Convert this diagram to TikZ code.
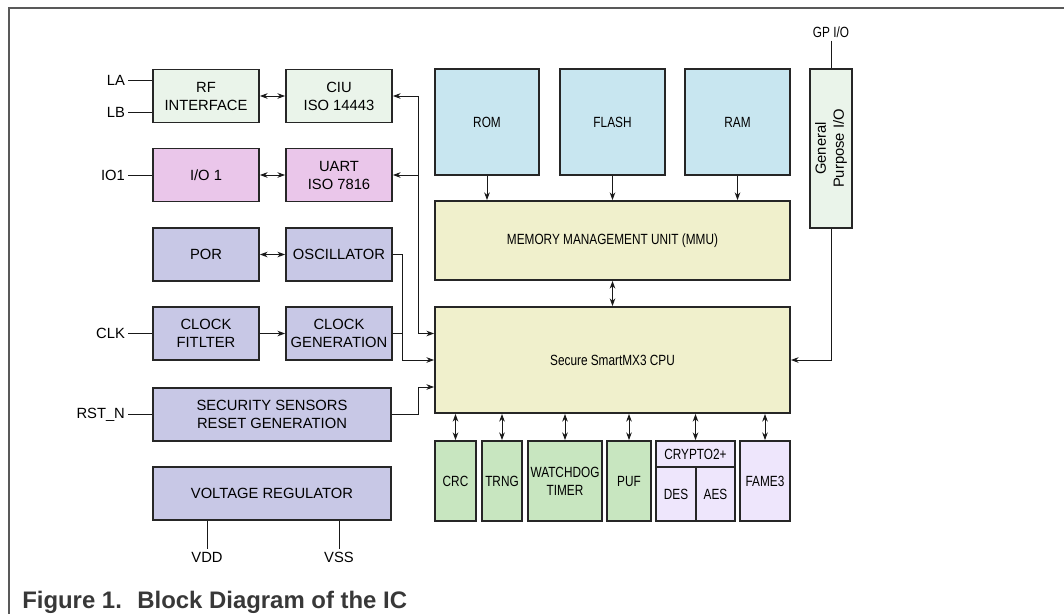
\documentclass[tikz,border=0pt]{standalone}
\usepackage{fontspec}
\setmainfont{Liberation Sans}
\newfontfamily\narrowsf[FakeStretch=0.8]{Liberation Sans}
\usetikzlibrary{arrows.meta, calc}

\definecolor{rfgreen}{HTML}{EAF4EA}
\definecolor{iopink}{HTML}{EAC6EA}
\definecolor{syslav}{HTML}{C8C8E6}
\definecolor{memblue}{HTML}{C8E6F0}
\definecolor{cpuyel}{HTML}{F0F0CC}
\definecolor{perigreen}{HTML}{C8E6C0}
\definecolor{cryptlil}{HTML}{EEE6FC}

\begin{document}
\begin{tikzpicture}[
    x=0.025cm, y=-0.025cm,
    sz/.style 2 args={minimum width=#1*0.025cm, minimum height=#2*0.025cm},
    box/.style={rectangle, draw=black!85, line width=1.3pt, inner sep=1pt, align=center, font=\fontsize{10.5}{12.8}\selectfont},
    nbox/.style={box, font=\fontsize{10.5}{12.8}\selectfont\narrowsf},
    pin/.style={inner sep=2pt, font=\fontsize{10.5}{12.8}\selectfont},
    wire/.style={line width=0.7pt, draw=black!90},
    >={Stealth[length=5.5pt, width=4pt]}
  ]
  \useasboundingbox (0,0) rectangle (1064,614);

  % Frame
  \draw[black!65, line width=0.8pt] (1064,8) -- (9,8) -- (9,614);

  % Interfaces
  \node[box, sz={106}{53}, fill=rfgreen] (rf) at (206,96) {RF\\INTERFACE};
  \node[box, sz={106}{53}, fill=rfgreen] (ciu) at (339,96) {CIU\\ISO 14443};
  \node[box, sz={106}{53}, fill=iopink] (io) at (206,175) {I/O 1};
  \node[box, sz={106}{53}, fill=iopink] (uart) at (339,175) {UART\\ISO 7816};

  % System
  \node[box, sz={106}{53}, fill=syslav] (por) at (206,254.5) {POR};
  \node[box, sz={106}{53}, fill=syslav] (osc) at (339,254.5) {OSCILLATOR};
  \node[box, sz={106}{53}, fill=syslav] (clkf) at (206,333.5) {CLOCK\\FITLTER};
  \node[box, sz={106}{53}, fill=syslav] (clkg) at (339,333.5) {CLOCK\\GENERATION};
  \node[box, sz={238}{53}, fill=syslav] (sec) at (272,414.5) {SECURITY SENSORS\\RESET GENERATION};
  \node[box, sz={238}{53}, fill=syslav] (vreg) at (272,493.5) {VOLTAGE REGULATOR};

  % Pins
  \node[pin, anchor=east] (la) at (128,80) {LA};
  \node[pin, anchor=east] (lb) at (128,112) {LB};
  \node[pin, anchor=east] (io1) at (128,175) {IO1};
  \node[pin, anchor=east] (clk) at (128,333.5) {CLK};
  \node[pin, anchor=east] (rstn) at (128,414.5) {RST\_N};
  \node[pin] (vdd) at (207,557) {VDD};
  \node[pin] (vss) at (339,557) {VSS};

  % Memories
  \node[nbox, sz={104}{106}, fill=memblue] (rom) at (487,122) {ROM};
  \node[nbox, sz={105}{106}, fill=memblue] (flash) at (612.5,122) {FLASH};
  \node[nbox, sz={105}{106}, fill=memblue] (ram) at (737.5,122) {RAM};
  \node[nbox, sz={355}{79}, fill=cpuyel] (mmu) at (612.5,240.5) {MEMORY MANAGEMENT UNIT (MMU)};
  \node[nbox, sz={355}{106}, fill=cpuyel] (cpu) at (612.5,360) {Secure SmartMX3 CPU};

  % GPIO (rotated: east is top, west is bottom)
  \node[box, sz={159}{42}, fill=rfgreen, rotate=90] (gpio) at (831,148.5) {General\\Purpose I/O};
  \node[pin, font=\fontsize{10.5}{12.8}\selectfont\narrowsf] (gp) at (831,32) {GP I/O};

  % Peripherals
  \node[nbox, sz={41}{80}, fill=perigreen] (crc) at (455.5,481) {CRC};
  \node[nbox, sz={40}{80}, fill=perigreen] (trng) at (502,481) {TRNG};
  \node[nbox, sz={74}{80}, fill=perigreen] (wdog) at (565,481) {WATCHDOG\\TIMER};
  \node[nbox, sz={44}{80}, fill=perigreen] (puf) at (629,481) {PUF};
  \node[nbox, sz={79}{26}, fill=cryptlil] (crypto) at (695.5,454) {CRYPTO2+};
  \node[nbox, sz={40}{54}, fill=cryptlil] (des) at (676,494) {DES};
  \node[nbox, sz={39}{54}, fill=cryptlil] (aes) at (715.5,494) {AES};
  \node[nbox, sz={50}{80}, fill=cryptlil] (fame) at (765,481) {FAME3};

  % Junctions
  \coordinate (busj) at (418,96);
  \coordinate (oscj) at (402,254.5);
  \coordinate (secin) at ($(cpu.west)+(0,27)$);

  % Connections
  \draw[wire] (la.east) -- (la.east -| rf.west);
  \draw[wire] (lb.east) -- (lb.east -| rf.west);
  \draw[wire] (io1) -- (io);
  \draw[wire] (clk) -- (clkf);
  \draw[wire] (rstn) -- (sec);
  \draw[wire] (vdd.north) -- (vdd.north |- vreg.south);
  \draw[wire] (vss.north) -- (vss.north |- vreg.south);
  \draw[wire] (gp) -- (gpio.east);

  \draw[wire, <->] (rf) -- (ciu);
  \draw[wire, <->] (io) -- (uart);
  \draw[wire, <->] (por) -- (osc);
  \draw[wire, ->] (clkf) -- (clkg);

  \draw[wire, ->] (busj) -- (ciu.east);
  \draw[wire, ->] (busj |- uart.east) -- (uart.east);
  \draw[wire, ->] (busj) |- (cpu.west |- clkg.east);
  \draw[wire, ->] (osc.east) -- (oscj) |- (cpu.west);
  \draw[wire] (clkg.east) -- (clkg.east -| oscj);
  \draw[wire, ->] (sec.east) -- (sec.east -| busj) |- (secin);
  \draw[wire, ->] (gpio.west) |- (cpu.east);

  \foreach \m in {rom, flash, ram}
    \draw[wire, ->] (\m.south) -- (\m.south |- mmu.north);
  \draw[wire, <->] (mmu) -- (cpu);
  \foreach \p in {crc, trng, wdog, puf, crypto, fame}
    \draw[wire, <->] (\p.north |- cpu.south) -- (\p.north);

  % Caption
  \node[anchor=base west, inner sep=0pt, text=black!78, font=\fontsize{17}{20}\selectfont\bfseries] (caption) at (22,608) {Figure 1.~ Block Diagram of the IC};
\end{tikzpicture}
\end{document}
